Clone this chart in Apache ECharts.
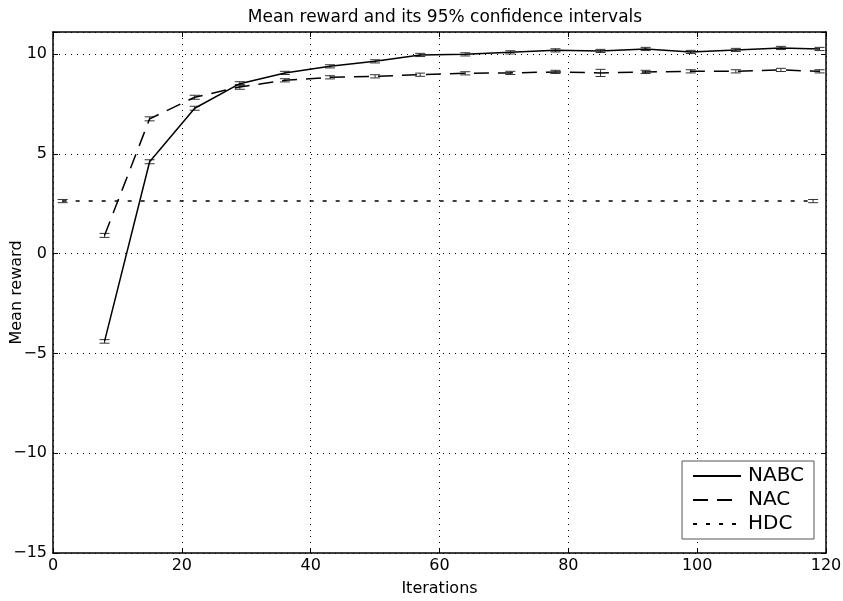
<!DOCTYPE html>
<html>
<head>
    <meta charset="UTF-8">
    <title>Mean reward</title>
    <script src="https://cdn.jsdelivr.net/npm/echarts@6/dist/echarts.min.js"></script>
    <style>
        html, body { margin: 0; padding: 0; background: #fff; }
        #main { width: 843px; height: 601px; }
    </style>
</head>
<body>
    <div id="main"></div>
    <script>
        // iterations where the learners were evaluated
        var iters = [8, 15, 22, 29, 36, 43, 50, 57, 64, 71, 78, 85, 92, 99, 106, 113, 119];
        var nabcMean = [-4.4, 4.6, 7.28, 8.51, 9.05, 9.38, 9.63, 9.95, 9.98, 10.08, 10.18, 10.15, 10.25, 10.1, 10.2, 10.3, 10.25];
        var nabcErr = [0.09, 0.1, 0.1, 0.1, 0.08, 0.08, 0.08, 0.08, 0.08, 0.08, 0.08, 0.08, 0.08, 0.08, 0.08, 0.08, 0.08];
        var nacMean = [0.91, 6.75, 7.83, 8.35, 8.68, 8.83, 8.88, 8.96, 9.03, 9.05, 9.1, 9.05, 9.1, 9.13, 9.13, 9.2, 9.13];
        var nacErr = [0.1, 0.1, 0.1, 0.12, 0.08, 0.08, 0.08, 0.08, 0.08, 0.08, 0.08, 0.18, 0.08, 0.08, 0.08, 0.08, 0.08];
        var hdcIters = [1.5, 118];
        var hdcMean = [2.63, 2.63];
        var hdcErr = [0.08, 0.08];

        var font = 'DejaVu Sans';

        function pairs(xs, ys) {
            var out = [];
            for (var i = 0; i < xs.length; i++) out.push([xs[i], ys[i]]);
            return out;
        }
        function bars(xs, ys, es) {
            var out = [];
            for (var i = 0; i < xs.length; i++) out.push([xs[i], ys[i] - es[i], ys[i] + es[i]]);
            return out;
        }
        // vertical error bar with caps
        function renderBar(params, api) {
            var lo = api.coord([api.value(0), api.value(1)]);
            var hi = api.coord([api.value(0), api.value(2)]);
            var w = 5;
            var st = { stroke: '#333', lineWidth: 1 };
            return {
                type: 'group',
                children: [
                    { type: 'line', shape: { x1: lo[0], y1: lo[1], x2: hi[0], y2: hi[1] }, style: st },
                    { type: 'line', shape: { x1: lo[0] - w, y1: lo[1], x2: lo[0] + w, y2: lo[1] }, style: st },
                    { type: 'line', shape: { x1: hi[0] - w, y1: hi[1], x2: hi[0] + w, y2: hi[1] }, style: st }
                ]
            };
        }

        var gridLine = { show: true, lineStyle: { color: '#000', type: [1, 5], width: 1 } };
        var tickIn = { show: true, inside: true, length: 5, lineStyle: { color: '#000', width: 1 } };
        var axisLine = { show: true, onZero: false, lineStyle: { color: '#000', width: 1.5 } };

        var myChart = echarts.init(document.getElementById('main'));
        myChart.setOption({
            animation: false,
            backgroundColor: '#fff',
            title: {
                text: 'Mean reward and its 95% confidence intervals',
                left: 440, textAlign: 'center', top: 4,
                textStyle: { fontFamily: font, fontSize: 17, fontWeight: 'normal', color: '#000' }
            },
            grid: { left: 53, right: 17, top: 32, bottom: 48, show: false, containLabel: false, outerBoundsMode: 'none' },
            legend: {
                data: ['NABC', 'NAC', 'HDC'],
                orient: 'vertical',
                right: 29, bottom: 62,
                itemWidth: 48, itemHeight: 14, itemGap: 4,
                padding: [5, 10, 5, 10],
                backgroundColor: '#fff',
                borderColor: '#555', borderWidth: 1,
                itemStyle: { opacity: 0 },
                textStyle: { fontFamily: font, fontSize: 20, color: '#000', padding: [0, 0, 0, 2] }
            },
            xAxis: [{
                type: 'value', min: 0, max: 120, interval: 20,
                name: 'Iterations', nameLocation: 'middle', nameGap: 28, nameMoveOverlap: false,
                nameTextStyle: { fontFamily: font, fontSize: 16, color: '#000' },
                axisLine: axisLine, axisTick: tickIn, splitLine: gridLine,
                axisLabel: { fontFamily: font, fontSize: 16, color: '#000', margin: 5 }
            }, {
                type: 'value', min: 0, max: 120, interval: 20, position: 'top',
                axisLine: axisLine, axisTick: tickIn, splitLine: { show: false },
                axisLabel: { show: false }
            }],
            yAxis: [{
                type: 'value', min: -15, max: 11.1, interval: 5,
                name: 'Mean reward', nameLocation: 'middle', nameGap: 28, nameMoveOverlap: false,
                nameTextStyle: { fontFamily: font, fontSize: 16, color: '#000' },
                axisLine: axisLine, axisTick: tickIn, splitLine: gridLine,
                axisLabel: {
                    fontFamily: font, fontSize: 16, color: '#000', margin: 6,
                    formatter: function (v) {
                        if (v % 5 !== 0) return '';
                        return v < 0 ? '\u2212' + (-v) : String(v);
                    }
                }
            }, {
                type: 'value', min: -15, max: 11.1, interval: 5, position: 'right',
                axisLine: axisLine, axisTick: tickIn, splitLine: { show: false },
                axisLabel: { show: false }
            }],
            series: [
                {
                    name: 'NABC', type: 'line', symbol: 'none', data: pairs(iters, nabcMean),
                    lineStyle: { color: '#000', width: 1.5, type: 'solid' }, itemStyle: { color: '#000' }
                },
                {
                    name: 'NAC', type: 'line', symbol: 'none', data: pairs(iters, nacMean),
                    lineStyle: { color: '#000', width: 1.5, type: [15, 9] }, itemStyle: { color: '#000' }
                },
                {
                    name: 'HDC', type: 'line', symbol: 'none', data: pairs(hdcIters, hdcMean),
                    lineStyle: { color: '#000', width: 1.5, type: [4, 9] }, itemStyle: { color: '#000' }
                },
                { name: 'nabcErr', type: 'custom', renderItem: renderBar, data: bars(iters, nabcMean, nabcErr), z: 3 },
                { name: 'nacErr', type: 'custom', renderItem: renderBar, data: bars(iters, nacMean, nacErr), z: 3 },
                { name: 'hdcErr', type: 'custom', renderItem: renderBar, data: bars(hdcIters, hdcMean, hdcErr), z: 3 }
            ]
        });
    </script>
</body>
</html>
